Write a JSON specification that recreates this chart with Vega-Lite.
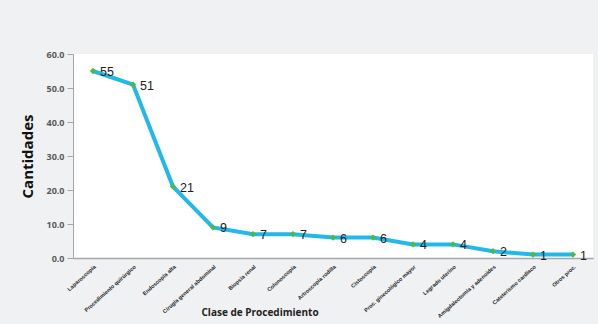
{
  "$schema": "https://vega.github.io/schema/vega-lite/v6.json",
  "autosize": {"type": "none"},
  "width": 520,
  "height": 204,
  "padding": {"left": 73, "top": 54, "right": 5, "bottom": 66},
  "background": "#f0f1f3",
  "config": {
    "view": {"fill": "white", "stroke": null},
    "font": "Open Sans"
  },
  "data": {
    "values": [
      {"clase": "Laparoscopía", "cantidad": 55},
      {"clase": "Procedimiento quirúrgico", "cantidad": 51},
      {"clase": "Endoscopía alta", "cantidad": 21},
      {"clase": "Cirugía general abdominal", "cantidad": 9},
      {"clase": "Biopsia renal", "cantidad": 7},
      {"clase": "Colonoscopía", "cantidad": 7},
      {"clase": "Artroscopía rodilla", "cantidad": 6},
      {"clase": "Cistoscopía", "cantidad": 6},
      {"clase": "Proc. ginecológico mayor", "cantidad": 4},
      {"clase": "Legrado uterino", "cantidad": 4},
      {"clase": "Amigdalectomía y adenoides", "cantidad": 2},
      {"clase": "Cateterismo cardíaco", "cantidad": 1},
      {"clase": "Otros proc.", "cantidad": 1}
    ]
  },
  "encoding": {
    "x": {
      "field": "clase",
      "type": "nominal",
      "sort": null,
      "title": "Clase de Procedimiento",
      "axis": {
        "labelAngle": -42,
        "labelFontSize": 5.5,
        "labelFontWeight": "bold",
        "labelColor": "#222",
        "labelFont": "Liberation Sans",
        "ticks": false,
        "labelPadding": 6,
        "domainColor": "#a6a6a6",
        "domainWidth": 1.5,
        "titleFontSize": 10,
        "titleFontWeight": "bold",
        "titleColor": "#222",
        "titleAnchor": "start",
        "titleX": 128,
        "titleY": 59,
        "titleBaseline": "bottom"
      }
    },
    "y": {
      "field": "cantidad",
      "type": "quantitative",
      "title": "Cantidades",
      "scale": {"domain": [0, 60]},
      "axis": {
        "values": [0, 10, 20, 30, 40, 50, 60],
        "format": ".1f",
        "grid": false,
        "labelFontSize": 9,
        "labelFontWeight": "bold",
        "labelColor": "#595959",
        "tickColor": "#a6a6a6",
        "tickSize": 6,
        "labelPadding": 3,
        "domainColor": "#a6a6a6",
        "titleFontSize": 15,
        "titleFontWeight": "bold",
        "titleColor": "#111",
        "titlePadding": 10
      }
    }
  },
  "layer": [
    {"mark": {"type": "line", "color": "#22b8e8", "strokeWidth": 4}},
    {"mark": {"type": "point", "shape": "diamond", "filled": true, "color": "#4fb848", "size": 40, "opacity": 1}},
    {
      "mark": {"type": "text", "align": "left", "dx": 7, "dy": 1, "fontSize": 12.5, "color": "#222", "font": "Liberation Sans"},
      "encoding": {"text": {"field": "cantidad", "type": "quantitative"}}
    }
  ]
}
